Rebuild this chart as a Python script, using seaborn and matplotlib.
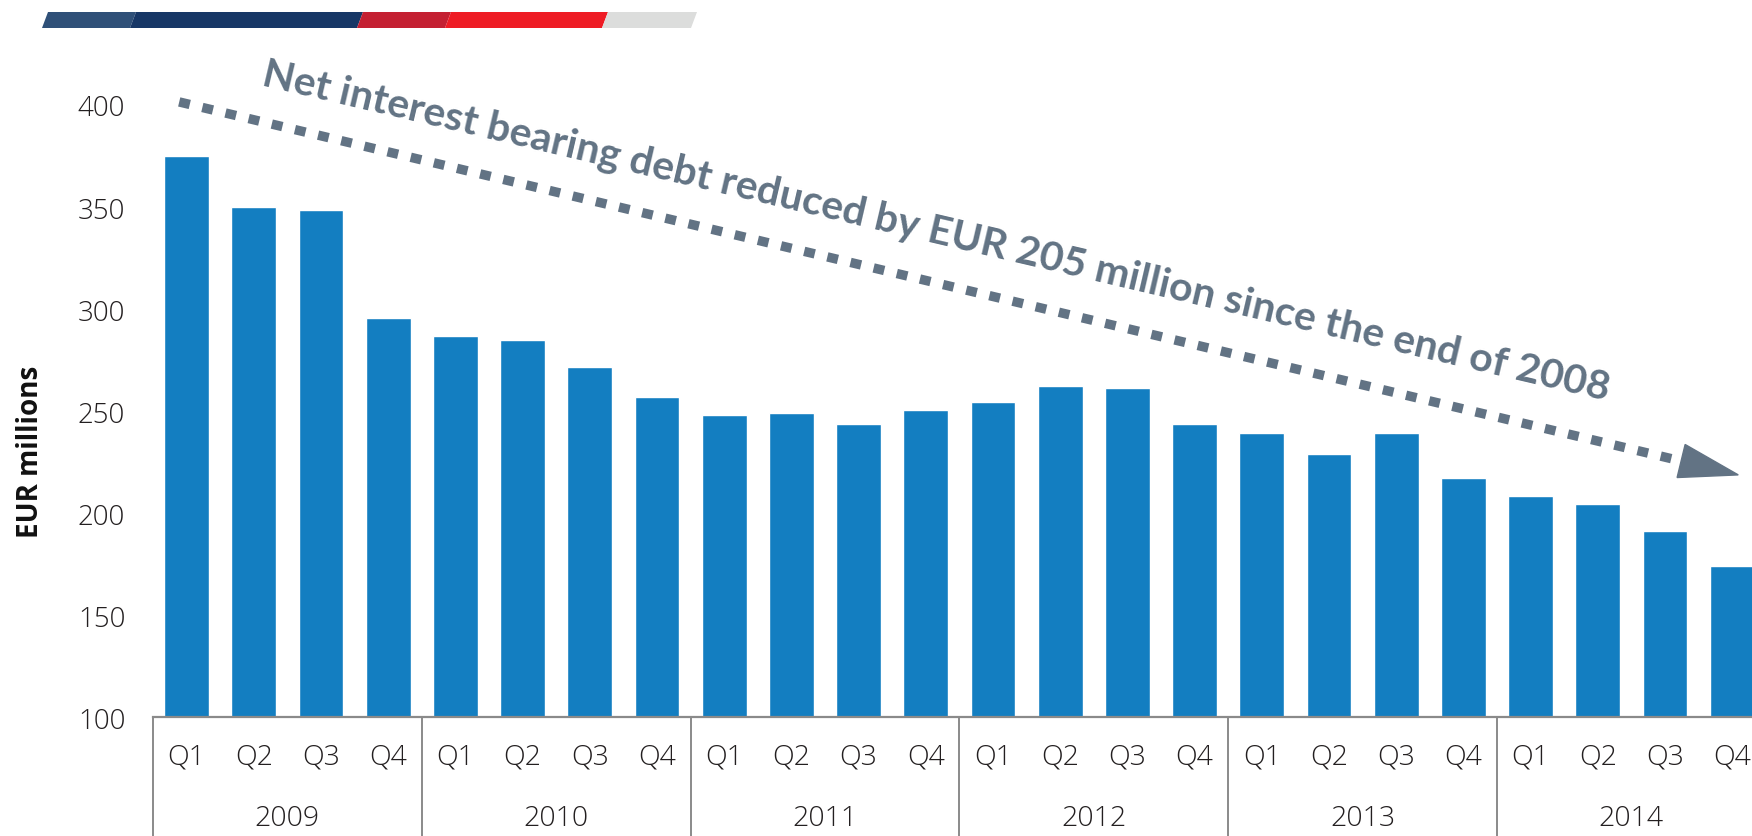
import numpy as np
import pandas as pd
import seaborn as sns
import matplotlib.pyplot as plt
import matplotlib.patches as mpatches
import matplotlib.transforms as mtrans

# ---- data ----
years = ["2009", "2010", "2011", "2012", "2013", "2014"]
quarters = ["Q1", "Q2", "Q3", "Q4"]
debt = [374.9, 350.0, 348.8, 295.5,
        286.7, 284.8, 271.7, 257.0,
        247.9, 249.2, 243.8, 250.7,
        254.6, 262.4, 261.4, 243.8,
        239.4, 229.2, 239.3, 217.3,
        208.7, 204.7, 191.4, 174.4]
yticks = [100, 150, 200, 250, 300, 350, 400]
annotation = "Net interest bearing debt reduced by EUR 205 million since the end of 2008"
ylabel = "EUR millions"

# annotation arrow (data coordinates)
ARROW_START = (-0.11, 401.5)
ARROW_BASE = (22.24, 225.6)
ARROW_TIP = (23.09, 218.8)

periods = [f"{y} {q}" for y in years for q in quarters]
df = pd.DataFrame({"period": periods, "debt": debt})

sns.set_theme(style="white")
plt.rcParams['font.family'] = ['Open Sans', 'DejaVu Sans']

W, H = 1752, 837
fig = plt.figure(figsize=(W / 100, H / 100), dpi=100)
ax = fig.add_axes([153 / W, 118.6 / H, (W - 153) / W, 612.4 / H])

sns.barplot(data=df, x="period", y="debt", order=periods, color="#137ec1",
            width=0.665, saturation=1, ax=ax, errorbar=None)

ax.set_ylim(100, 400)
ax.set_xlim(-0.5, -0.5 + (W - 153) / 67.2)
ax.set_yticks(yticks)
ax.set_yticklabels([str(v) for v in yticks], fontweight='light')
ax.set_xticks(range(len(periods)))
ax.set_xticklabels(quarters * len(years), fontweight='light')
ax.set_xlabel("")
ax.set_ylabel("")
ax.tick_params(axis='y', length=0, pad=20, labelsize=20, labelcolor='#231f20')
ax.tick_params(axis='x', length=0, pad=18, labelsize=20.5, labelcolor='#231f20')
for s in ['left', 'top', 'right']:
    ax.spines[s].set_visible(False)
ax.spines['bottom'].set_color('#8a8a8a')
ax.spines['bottom'].set_linewidth(1.6)

grid_col = '#8a8a8a'
for i in range(len(years) + 1):
    ax.axvline(4 * i - 0.5, ymin=-0.2, ymax=0, color=grid_col, lw=1.4, clip_on=False)

blend = mtrans.blended_transform_factory(ax.transData, ax.transAxes)
for i, y in enumerate(years):
    ax.text(4 * i + 1.5, -0.165, y, transform=blend, ha='center', va='center',
            fontsize=20.5, color='#231f20', fontweight='light')

fig.text(31 / W, 1 - 452 / H, ylabel, rotation=90, fontweight='bold', fontsize=20,
         ha='center', va='center', color='#111111')

# arrow
acol = '#627384'
ax.plot([ARROW_START[0], ARROW_BASE[0]], [ARROW_START[1], ARROW_BASE[1]], color=acol,
        lw=6.8, dashes=(1.15, 1.37), dash_capstyle='butt', clip_on=False)
p_tip = ax.transData.transform(ARROW_TIP)
p_base = ax.transData.transform(ARROW_BASE)
u = (p_tip - p_base) / np.linalg.norm(p_tip - p_base)
n = np.array([-u[1], u[0]])
head = mpatches.Polygon([p_tip, p_base + 17 * n, p_base - 17 * n], closed=True,
                        transform=mtrans.IdentityTransform(), color=acol)
fig.add_artist(head)

fig.text(936 / W, 1 - 232 / H, annotation, rotation=-13.2, rotation_mode='anchor',
         ha='center', va='center', fontsize=29.5, fontweight='bold', color=acol,
         family=['Lato', 'DejaVu Sans'])

# top decorative stripe
bx = [42, 130, 357, 445, 602, 691]
cols = ['#2f5078', '#173766', '#c42032', '#ee1c25', '#dcdddc']
slant = 6
y0, y1 = H - 29, H - 13
for i, c in enumerate(cols):
    verts = [(bx[i], y0), (bx[i + 1], y0), (bx[i + 1] + slant, y1), (bx[i] + slant, y1)]
    fig.add_artist(mpatches.Polygon(verts, closed=True, transform=mtrans.IdentityTransform(),
                                    color=c, lw=0))

fig.savefig('out.png', dpi=100)
